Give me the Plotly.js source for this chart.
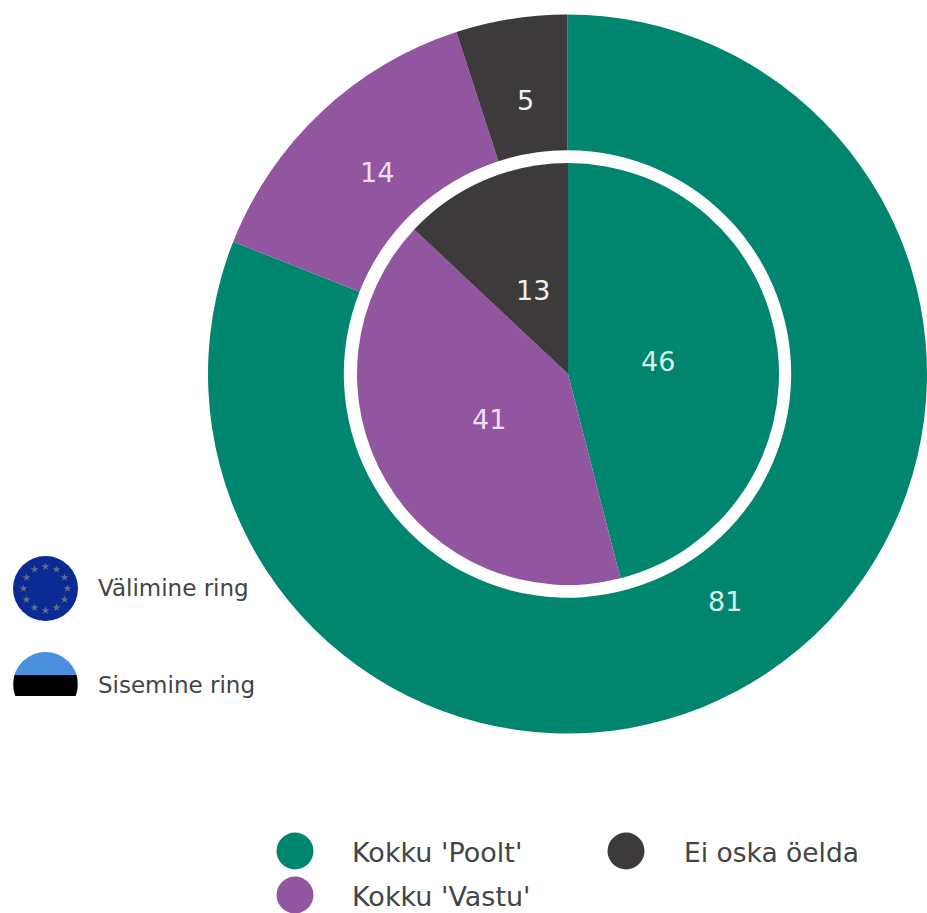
<!DOCTYPE html>
<html><head><meta charset="utf-8"><script src="https://cdn.plot.ly/plotly-3.0.1.min.js"></script>
<style>html,body{margin:0;padding:0;background:#fff}#c{width:927px;height:913px}</style></head><body><div id="c"></div>
<script>
const categories=["Kokku 'Poolt'","Kokku 'Vastu'","Ei oska öelda"];
const outerValues=[81,14,5];
const innerValues=[46,41,13];
const colors=['#00856f','#92559f','#3d3a3c'];
const textColors=['#d5efe9','#f3dff3','#f0f0f0'];
const ringLabels=['Välimine ring','Sisemine ring'];
const W=927,H=913,fs=27,fam='DejaVu Sans';
const cx=568,cy=374,R1=360,r1=224,R2=211;
function domX(r){return [(cx-r)/W,(cx+r)/W];}
function domY(r){return [1-(cy+r)/H,1-(cy-r)/H];}
// value-label anchor points, pixels, in category order
const outerLabelPos=[[725,601],[377,172],[525,100]];
const innerLabelPos=[[658,361],[489,419],[533,290]];
function valueLabels(vals,pos){return vals.map((v,i)=>({x:pos[i][0],y:pos[i][1],xref:'x',yref:'y',text:String(v),showarrow:false,font:{family:fam,size:fs,color:textColors[i]}}));}
function pie(vals,hole,r){return {type:'pie',labels:categories,values:vals,hole:hole,sort:false,direction:'clockwise',rotation:0,
  marker:{colors:colors,line:{width:0}},textinfo:'none',showlegend:false,hoverinfo:'label+value',domain:{x:domX(r),y:domY(r)}};}
const euCx=45.5,euCy=588.5;
const starAngles=[0,30,60,90,120,150,180,210,240,270,300,330];
const traces=[
 pie(outerValues,r1/R1,R1),
 pie(innerValues,0,R2),
 {type:'scatter',mode:'markers',xaxis:'x',yaxis:'y',x:[295,295,626],y:[851,895,851],
  marker:{size:37,color:colors,line:{width:0}},cliponaxis:false,showlegend:false,hoverinfo:'skip'},
 {type:'scatter',mode:'markers',xaxis:'x',yaxis:'y',
  x:starAngles.map(a=>euCx+22*Math.sin(a*Math.PI/180)),y:starAngles.map(a=>euCy-22*Math.cos(a*Math.PI/180)),
  marker:{symbol:'star',size:6,color:'#5f6f86',line:{width:0}},showlegend:false,hoverinfo:'skip'}
];
const txt={family:fam,color:'#444444'};
const layout={width:W,height:H,margin:{l:0,r:0,t:0,b:0},paper_bgcolor:'#fff',plot_bgcolor:'rgba(0,0,0,0)',showlegend:false,
 xaxis:{range:[0,W],visible:false,fixedrange:true},yaxis:{range:[H,0],visible:false,fixedrange:true},
 annotations:[
  ...valueLabels(outerValues,outerLabelPos),
  ...valueLabels(innerValues,innerLabelPos),
  {x:96,y:588,xref:'x',yref:'y',text:ringLabels[0],showarrow:false,xanchor:'left',font:{...txt,size:23}},
  {x:96,y:685,xref:'x',yref:'y',text:ringLabels[1],showarrow:false,xanchor:'left',font:{...txt,size:23}},
  {x:350,y:852,xref:'x',yref:'y',text:categories[0],showarrow:false,xanchor:'left',font:{...txt,size:27}},
  {x:350,y:896,xref:'x',yref:'y',text:categories[1],showarrow:false,xanchor:'left',font:{...txt,size:27}},
  {x:682,y:852,xref:'x',yref:'y',text:categories[2],showarrow:false,xanchor:'left',font:{...txt,size:26.5}}
 ],
 shapes:[
  {type:'circle',xref:'x',yref:'y',layer:'below',x0:13,x1:78,y0:556,y1:621,fillcolor:'#0b2a94',line:{width:0}},
  {type:'circle',xref:'x',yref:'y',layer:'below',x0:13,x1:78,y0:652,y1:717,fillcolor:'#4a90dc',line:{width:0}},
  {type:'path',xref:'x',yref:'y',layer:'below',path:'M14.5,675 Q12,686 15.5,696 L75.5,696 Q79,686 76.5,675 Z',fillcolor:'#000000',line:{width:0}},
  {type:'rect',xref:'x',yref:'y',layer:'below',x0:10,x1:82,y0:696,y1:720,fillcolor:'#ffffff',line:{width:0}}
 ]};
Plotly.newPlot('c',traces,layout,{displayModeBar:false,staticPlot:true});
</script></body></html>
